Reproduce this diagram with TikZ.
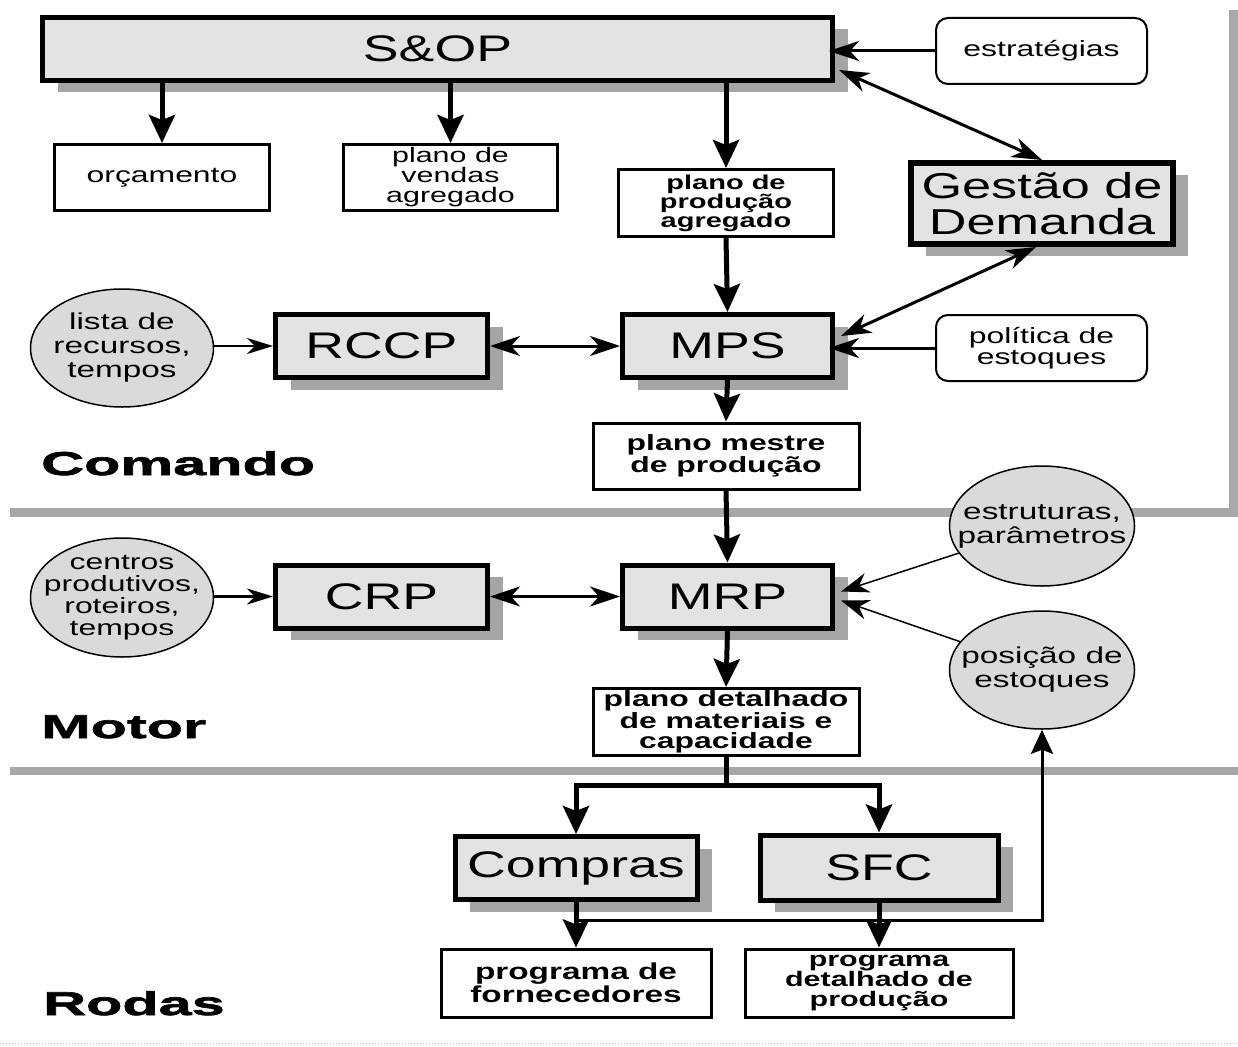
\documentclass[tikz,border=0pt]{standalone}
\usepackage{fontspec}
\setmainfont{Liberation Sans}[FakeStretch=1.45]
\newfontfamily\lblfont{Liberation Sans}[FakeStretch=1.8, BoldFeatures={FakeBold=2}]
\usetikzlibrary{arrows.meta,shapes.geometric,calc,shadows}
\definecolor{boxgray}{HTML}{E3E3E3}
\definecolor{ovalgray}{HTML}{DADADA}
\definecolor{shadowgray}{HTML}{A5A5A5}
\definecolor{sepgray}{HTML}{A8A8A8}
\begin{document}
\begin{tikzpicture}[x=1pt,y=-1pt,
  box/.style={draw, line width=3pt, fill=white, inner sep=1pt, align=center,
    font=\fontsize{22}{20}\selectfont},
  heavy/.style={draw, line width=5pt, fill=boxgray, inner sep=2pt, align=center,
    font=\fontsize{37}{33}\selectfont,
    drop shadow={shadow xshift=15pt, shadow yshift=-12pt, fill=shadowgray, opacity=1}},
  rbox/.style={draw, line width=2pt, rounded corners=12pt, fill=white, inner sep=1pt,
    align=center, font=\fontsize{22}{21}\selectfont},
  oval/.style={ellipse, draw, line width=1.5pt, fill=ovalgray, inner sep=0pt},
  ovaltext/.style={align=center, inner sep=0pt, font=\fontsize{23}{24}\selectfont},
  lbl/.style={font=\lblfont\bfseries\fontsize{33}{33}\selectfont, inner sep=0pt},
  bigarr/.style={line width=5pt, -{Stealth[length=28pt,width=26pt,inset=5pt]}},
  bigline/.style={line width=5pt},
  dblarr/.style={line width=3pt, {Stealth[length=30pt,width=20pt,inset=9pt]}-{Stealth[length=30pt,width=20pt,inset=9pt]}},
  inarr/.style={line width=3pt, -{Stealth[length=30pt,width=20pt,inset=9pt]}},
  smallarr/.style={line width=2.5pt, -{Stealth[length=26pt,width=16pt,inset=8pt]}},
  thinarr/.style={line width=1.5pt, -{Stealth[length=28pt,width=20pt,inset=9pt]}},
  fbarr/.style={line width=3pt, -{Stealth[length=24pt,width=22pt,inset=4pt]}},
]
\useasboundingbox (0,0) rectangle (1238,1046);

% section separators
\fill[sepgray] (10,508) rectangle (1238,517);
\fill[sepgray] (1229,10) rectangle (1238,517);
\fill[sepgray] (10,767) rectangle (1238,775);
\draw[gray!45, line width=1pt, dotted] (0,1043) -- (1238,1043);

% Comando
\node[heavy, minimum width=790pt, minimum height=63pt] (sop) at (437.5,49) {S\&OP};
\node[rbox, minimum width=211pt, minimum height=66pt] (estr) at (1041.5,51) {estratégias};
\node[box, minimum width=215pt, minimum height=66pt] (orc) at (162,177.5) {orçamento};
\node[box, minimum width=214pt, minimum height=66pt, font=\fontsize{21}{20}\selectfont] (pva) at (450.5,177.5) {plano de\\vendas\\agregado};
\node[box, minimum width=215pt, minimum height=67pt, font=\bfseries\fontsize{20}{19}\selectfont] (ppa) at (726,203) {plano de\\produção\\agregado};
\node[heavy, line width=6pt, inner sep=1pt, minimum width=262pt, minimum height=81pt, font=\fontsize{36}{36}\selectfont] (gd) at (1042,203.5) {Gestão de\\Demanda};

\node[oval, minimum width=183pt, minimum height=118pt,
  label={[ovaltext]center:lista de\\recursos,\\tempos}] (lista) at (122,348) {};
\node[heavy, minimum width=212pt, minimum height=63pt] (rccp) at (381.5,346) {RCCP};
\node[heavy, minimum width=210pt, minimum height=63pt] (mps) at (727.5,346) {MPS};
\node[rbox, minimum width=211pt, minimum height=66pt] (pol) at (1041.5,348) {política de\\estoques};
\node[box, minimum width=266pt, minimum height=66pt, font=\bfseries\fontsize{22}{22}\selectfont] (pmp) at (726,456) {plano mestre\\de produção};
\node[lbl, anchor=base west] (lcom) at (41,475) {Comando};

% Motor
\node[oval, minimum width=183pt, minimum height=119pt,
  label={[ovaltext, font=\fontsize{22}{22}\selectfont]center:centros\\produtivos,\\roteiros,\\tempos}] (cent) at (122,597.5) {};
\node[heavy, minimum width=212pt, minimum height=63pt] (crp) at (381.5,596.5) {CRP};
\node[heavy, minimum width=210pt, minimum height=63pt] (mrp) at (727.5,596.5) {MRP};
\node[oval, minimum width=185pt, minimum height=120pt,
  label={[ovaltext]center:estruturas,\\parâmetros}] (estrut) at (1042,526) {};
\node[oval, minimum width=185pt, minimum height=118pt,
  label={[ovaltext]center:posição de\\estoques}] (posic) at (1042,670) {};
\node[box, minimum width=266pt, minimum height=67pt, font=\bfseries\fontsize{22}{20}\selectfont] (pdm) at (726,722) {plano detalhado\\de materiais e\\capacidade};
\node[lbl, anchor=base west] (lmot) at (41,738) {Motor};

% Rodas
\node[heavy, minimum width=242pt, minimum height=63pt] (cmp) at (576,868) {Compras};
\node[heavy, minimum width=238pt, minimum height=65pt] (sfc) at (879,867.5) {SFC};
\node[box, minimum width=270pt, minimum height=68pt, font=\bfseries\fontsize{23}{20}\selectfont] (pf) at (576,983) {programa de\\fornecedores};
\node[box, minimum width=268pt, minimum height=68pt, font=\bfseries\fontsize{21}{20}\selectfont] (pdp) at (879,983) {programa\\detalhado de\\produção};
\node[lbl, anchor=base west] (lrod) at (43,1015) {Rodas};

% connectors
\draw[bigarr] (sop.south -| orc.north) -- (orc.north);
\draw[bigarr] (sop.south -| pva.north) -- (pva.north);
\draw[bigarr] (sop.south -| ppa.north) -- (ppa.north);
\draw[inarr, shorten >=-6pt] (estr.west) -- (sop.east |- estr.west);
\draw[dblarr] ([xshift=4pt,yshift=-21pt]sop.east) -- (gd.north);
\draw[dblarr] ([xshift=-6pt]gd.south) -- ([xshift=6pt,yshift=10pt]mps.east);
\draw[inarr, shorten >=-6pt] (pol.west) -- (mps.east |- pol.west);
\draw[bigarr] (ppa.south) -- (mps.north);
\draw[smallarr] (lista.east |- rccp.west) -- (rccp.west);
\draw[dblarr] (rccp.east) -- (mps.west);
\draw[bigarr] (mps.south) -- (pmp.north);
\draw[bigarr] (pmp.south) -- (mrp.north);
\draw[smallarr] (cent.east |- crp.west) -- (crp.west);
\draw[dblarr] (crp.east) -- (mrp.west);
\draw[thinarr] (estrut) -- ([xshift=6pt,yshift=5pt]mrp.east);
\draw[thinarr] (posic) -- ([xshift=6pt,yshift=-4pt]mrp.east);
\draw[bigarr] (mrp.south) -- (pdm.north);
\coordinate (sy) at (0,785);
\draw[bigline] (pdm.south) -- (pdm.south |- sy) coordinate (sp);
\draw[bigarr] (sp) -| (cmp.north);
\draw[bigarr] (sp) -| (sfc.north);
\draw[bigarr] (cmp.south) -- (pf.north);
\draw[bigarr] (sfc.south) -- (pdp.north);
\coordinate (fb) at ($(cmp.south)!0.4!(pf.north)$);
\draw[fbarr] (fb) -| (posic.south);
\end{tikzpicture}
\end{document}
